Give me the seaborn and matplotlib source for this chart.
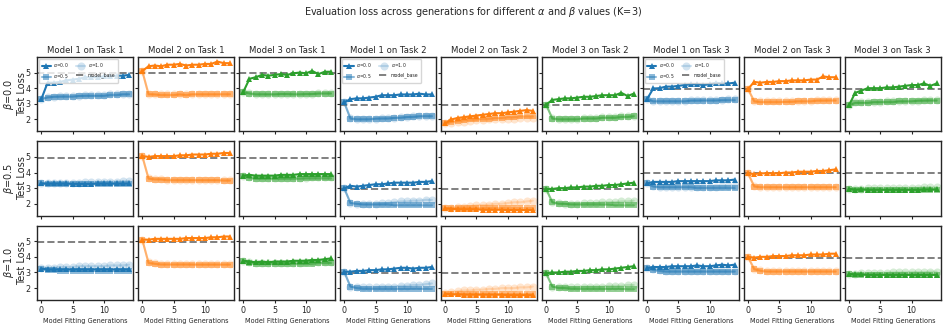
import numpy as np
import pandas as pd
import seaborn as sns
from matplotlib import pyplot as plt

gens = list(range(15))
models = ["Model 1", "Model 2", "Model 3"]
tasks = ["Task 1", "Task 2", "Task 3"]
betas = [0.0, 0.5, 1.0]
alphas = [0.0, 0.5, 1.0]
model_base = [4.95, 2.95, 3.95]  # per task

# columns: M1T1, M2T1, M3T1, M1T2, M2T2, M3T2, M1T3, M2T3, M3T3
beta00_alpha00 = [
    [3.3, 4.35, 4.35, 4.4, 4.5, 4.55, 4.6, 4.7, 4.7, 4.7, 4.75, 4.75, 4.8, 4.8, 4.85],
    [5.1, 5.4, 5.45, 5.4, 5.5, 5.5, 5.55, 5.45, 5.5, 5.5, 5.55, 5.55, 5.7, 5.6, 5.6],
    [3.75, 4.6, 4.7, 4.85, 4.8, 4.85, 4.9, 4.85, 4.95, 5.0, 4.95, 5.1, 4.9, 5.05, 5.05],
    [3.1, 3.3, 3.35, 3.35, 3.4, 3.45, 3.55, 3.55, 3.55, 3.6, 3.6, 3.6, 3.65, 3.6, 3.6],
    [1.75, 2.0, 2.1, 2.15, 2.2, 2.25, 2.3, 2.35, 2.4, 2.4, 2.45, 2.5, 2.55, 2.6, 2.55],
    [2.95, 3.25, 3.3, 3.35, 3.35, 3.4, 3.45, 3.45, 3.5, 3.55, 3.55, 3.55, 3.7, 3.5, 3.65],
    [3.3, 3.98, 4.0, 4.1, 4.1, 4.15, 4.2, 4.25, 4.25, 4.2, 4.25, 4.35, 4.3, 4.3, 4.35],
    [3.95, 4.4, 4.35, 4.4, 4.4, 4.45, 4.45, 4.5, 4.5, 4.5, 4.55, 4.55, 4.75, 4.7, 4.7],
    [2.9, 3.7, 3.85, 4.0, 4.0, 4.0, 4.05, 4.05, 4.1, 4.15, 4.2, 4.2, 4.3, 4.15, 4.3],
]
beta00_alpha05 = [
    [3.3, 3.4, 3.45, 3.45, 3.45, 3.45, 3.5, 3.5, 3.5, 3.5, 3.5, 3.55, 3.55, 3.6, 3.6],
    [5.1, 3.6, 3.6, 3.55, 3.55, 3.55, 3.6, 3.55, 3.6, 3.6, 3.6, 3.6, 3.6, 3.6, 3.6],
    [3.75, 3.65, 3.6, 3.6, 3.6, 3.6, 3.62, 3.62, 3.6, 3.6, 3.62, 3.62, 3.65, 3.65, 3.65],
    [3.1, 2.05, 2.0, 2.0, 2.0, 2.05, 2.05, 2.05, 2.1, 2.1, 2.15, 2.15, 2.2, 2.2, 2.2],
    [1.75, 1.85, 1.9, 1.95, 2.0, 2.0, 2.05, 2.05, 2.1, 2.1, 2.15, 2.15, 2.2, 2.2, 2.2],
    [2.95, 2.05, 2.0, 2.0, 2.0, 2.0, 2.05, 2.05, 2.05, 2.1, 2.1, 2.1, 2.15, 2.15, 2.2],
    [3.3, 3.15, 3.15, 3.15, 3.15, 3.15, 3.15, 3.2, 3.2, 3.2, 3.2, 3.2, 3.22, 3.22, 3.22],
    [3.95, 3.15, 3.1, 3.1, 3.1, 3.1, 3.12, 3.12, 3.15, 3.15, 3.15, 3.2, 3.2, 3.2, 3.2],
    [2.9, 3.05, 3.05, 3.05, 3.1, 3.1, 3.1, 3.1, 3.15, 3.15, 3.15, 3.2, 3.2, 3.2, 3.2],
]
beta00_alpha10 = [
    [3.3, 3.45, 3.45, 3.5, 3.5, 3.5, 3.5, 3.55, 3.55, 3.55, 3.55, 3.6, 3.6, 3.62, 3.65],
    [5.1, 3.65, 3.6, 3.6, 3.6, 3.6, 3.6, 3.6, 3.62, 3.62, 3.62, 3.62, 3.62, 3.65, 3.65],
    [3.75, 3.7, 3.65, 3.65, 3.62, 3.62, 3.65, 3.65, 3.65, 3.65, 3.65, 3.65, 3.68, 3.7, 3.7],
    [3.1, 2.1, 2.05, 2.05, 2.05, 2.05, 2.1, 2.1, 2.1, 2.15, 2.15, 2.2, 2.2, 2.25, 2.25],
    [1.75, 1.8, 1.85, 1.85, 1.9, 1.95, 1.95, 2.0, 2.0, 2.05, 2.05, 2.05, 2.1, 2.1, 2.1],
    [2.95, 2.1, 2.05, 2.05, 2.05, 2.05, 2.1, 2.1, 2.1, 2.15, 2.15, 2.15, 2.2, 2.2, 2.25],
    [3.3, 3.2, 3.2, 3.2, 3.2, 3.2, 3.2, 3.22, 3.22, 3.25, 3.25, 3.25, 3.25, 3.28, 3.28],
    [3.95, 3.2, 3.15, 3.15, 3.15, 3.15, 3.15, 3.18, 3.18, 3.2, 3.2, 3.22, 3.22, 3.25, 3.25],
    [2.9, 3.1, 3.1, 3.1, 3.12, 3.12, 3.15, 3.15, 3.18, 3.18, 3.2, 3.2, 3.22, 3.25, 3.25],
]

beta05_alpha00 = [
    [3.3, 3.3, 3.3, 3.3, 3.3, 3.28, 3.28, 3.28, 3.28, 3.3, 3.3, 3.3, 3.3, 3.3, 3.3],
    [5.05, 5.0, 5.05, 5.05, 5.05, 5.05, 5.1, 5.1, 5.15, 5.15, 5.15, 5.2, 5.2, 5.25, 5.25],
    [3.8, 3.85, 3.8, 3.8, 3.8, 3.8, 3.85, 3.85, 3.85, 3.9, 3.9, 3.9, 3.9, 3.9, 3.9],
    [3.0, 3.15, 3.1, 3.15, 3.2, 3.25, 3.25, 3.3, 3.35, 3.35, 3.35, 3.35, 3.4, 3.4, 3.45],
    [1.7, 1.68, 1.65, 1.65, 1.65, 1.65, 1.62, 1.62, 1.62, 1.62, 1.6, 1.6, 1.6, 1.6, 1.6],
    [2.95, 2.95, 3.0, 3.0, 3.05, 3.05, 3.1, 3.1, 3.15, 3.15, 3.2, 3.2, 3.25, 3.3, 3.35],
    [3.3, 3.4, 3.4, 3.4, 3.4, 3.45, 3.45, 3.45, 3.45, 3.45, 3.45, 3.5, 3.5, 3.5, 3.55],
    [3.95, 3.9, 3.95, 3.95, 3.95, 3.95, 4.0, 4.0, 4.05, 4.05, 4.05, 4.1, 4.1, 4.15, 4.2],
    [2.95, 2.9, 2.92, 2.9, 2.9, 2.9, 2.9, 2.9, 2.9, 2.9, 2.9, 2.9, 2.92, 2.92, 2.92],
]
beta05_alpha05 = [
    [3.3, 3.25, 3.25, 3.25, 3.25, 3.25, 3.25, 3.25, 3.25, 3.25, 3.25, 3.25, 3.25, 3.25, 3.25],
    [5.05, 3.6, 3.55, 3.55, 3.5, 3.5, 3.5, 3.5, 3.5, 3.5, 3.5, 3.5, 3.5, 3.48, 3.48],
    [3.8, 3.65, 3.6, 3.6, 3.6, 3.6, 3.6, 3.6, 3.6, 3.6, 3.62, 3.62, 3.62, 3.62, 3.62],
    [3.0, 2.05, 2.0, 1.95, 1.95, 1.95, 1.95, 1.95, 1.9, 1.9, 1.9, 1.9, 1.9, 1.9, 1.9],
    [1.7, 1.7, 1.72, 1.72, 1.72, 1.72, 1.72, 1.72, 1.72, 1.72, 1.72, 1.72, 1.72, 1.72, 1.72],
    [2.95, 2.1, 2.0, 2.0, 1.95, 1.95, 1.95, 1.95, 1.95, 1.95, 1.95, 1.9, 1.9, 1.9, 1.9],
    [3.3, 3.1, 3.05, 3.05, 3.05, 3.05, 3.05, 3.05, 3.0, 3.0, 3.0, 3.0, 3.0, 3.0, 3.0],
    [3.95, 3.1, 3.05, 3.05, 3.05, 3.05, 3.05, 3.05, 3.05, 3.05, 3.05, 3.05, 3.05, 3.05, 3.05],
    [2.95, 2.9, 2.9, 2.9, 2.88, 2.88, 2.88, 2.88, 2.88, 2.88, 2.88, 2.88, 2.88, 2.88, 2.88],
]
beta05_alpha10 = [
    [3.3, 3.32, 3.32, 3.34, 3.34, 3.36, 3.36, 3.38, 3.38, 3.4, 3.4, 3.42, 3.42, 3.45, 3.45],
    [5.05, 3.65, 3.6, 3.58, 3.55, 3.55, 3.55, 3.55, 3.52, 3.52, 3.52, 3.52, 3.52, 3.5, 3.5],
    [3.8, 3.7, 3.65, 3.65, 3.65, 3.65, 3.65, 3.65, 3.68, 3.68, 3.68, 3.7, 3.7, 3.7, 3.72],
    [3.0, 2.05, 2.0, 2.0, 2.0, 2.0, 2.02, 2.05, 2.1, 2.15, 2.15, 2.2, 2.2, 2.25, 2.25],
    [1.7, 1.75, 1.8, 1.82, 1.85, 1.9, 1.92, 1.95, 2.0, 2.0, 2.05, 2.1, 2.1, 2.15, 2.2],
    [2.95, 2.1, 2.02, 2.0, 2.0, 2.0, 2.05, 2.05, 2.05, 2.1, 2.1, 2.1, 2.15, 2.15, 2.2],
    [3.3, 3.15, 3.1, 3.1, 3.1, 3.1, 3.1, 3.1, 3.1, 3.1, 3.1, 3.1, 3.12, 3.12, 3.12],
    [3.95, 3.15, 3.1, 3.1, 3.08, 3.08, 3.08, 3.08, 3.08, 3.08, 3.08, 3.08, 3.08, 3.08, 3.08],
    [2.95, 2.95, 2.95, 2.98, 2.98, 3.0, 3.0, 3.0, 3.0, 3.02, 3.02, 3.02, 3.05, 3.05, 3.05],
]

beta10_alpha00 = [
    [3.25, 3.2, 3.2, 3.2, 3.2, 3.2, 3.2, 3.2, 3.2, 3.2, 3.2, 3.2, 3.2, 3.2, 3.2],
    [5.1, 5.1, 5.15, 5.15, 5.15, 5.15, 5.15, 5.2, 5.2, 5.2, 5.2, 5.25, 5.25, 5.3, 5.3],
    [3.75, 3.7, 3.65, 3.7, 3.65, 3.7, 3.7, 3.7, 3.75, 3.75, 3.75, 3.8, 3.8, 3.85, 3.9],
    [3.05, 3.05, 3.1, 3.1, 3.15, 3.15, 3.2, 3.2, 3.25, 3.3, 3.3, 3.25, 3.3, 3.3, 3.35],
    [1.65, 1.6, 1.6, 1.58, 1.58, 1.58, 1.58, 1.58, 1.58, 1.58, 1.55, 1.55, 1.55, 1.55, 1.55],
    [2.95, 3.0, 3.0, 3.05, 3.05, 3.1, 3.1, 3.15, 3.15, 3.2, 3.2, 3.25, 3.3, 3.35, 3.4],
    [3.3, 3.35, 3.35, 3.35, 3.4, 3.4, 3.4, 3.4, 3.45, 3.4, 3.4, 3.45, 3.5, 3.45, 3.5],
    [4.0, 3.95, 4.0, 4.0, 4.05, 4.05, 4.05, 4.1, 4.1, 4.1, 4.15, 4.15, 4.15, 4.2, 4.2],
    [2.9, 2.88, 2.88, 2.85, 2.85, 2.85, 2.85, 2.85, 2.85, 2.85, 2.85, 2.85, 2.85, 2.85, 2.85],
]
beta10_alpha05 = [
    [3.2, 3.15, 3.15, 3.1, 3.1, 3.1, 3.1, 3.1, 3.1, 3.1, 3.1, 3.1, 3.1, 3.1, 3.1],
    [5.1, 3.6, 3.55, 3.5, 3.5, 3.5, 3.5, 3.5, 3.5, 3.5, 3.5, 3.5, 3.5, 3.5, 3.5],
    [3.75, 3.6, 3.55, 3.55, 3.55, 3.55, 3.55, 3.55, 3.55, 3.55, 3.55, 3.55, 3.6, 3.6, 3.6],
    [3.05, 2.1, 2.0, 1.95, 1.95, 1.95, 1.95, 1.95, 1.95, 1.95, 1.95, 1.95, 1.95, 1.95, 1.95],
    [1.65, 1.65, 1.65, 1.65, 1.65, 1.65, 1.65, 1.65, 1.65, 1.65, 1.65, 1.65, 1.65, 1.65, 1.65],
    [2.95, 2.1, 2.0, 2.0, 1.95, 1.95, 1.95, 1.95, 1.95, 1.95, 1.95, 1.95, 1.95, 1.92, 1.92],
    [3.3, 3.15, 3.1, 3.05, 3.05, 3.05, 3.05, 3.05, 3.05, 3.05, 3.05, 3.05, 3.05, 3.05, 3.05],
    [4.0, 3.2, 3.1, 3.05, 3.05, 3.05, 3.05, 3.05, 3.05, 3.05, 3.05, 3.05, 3.05, 3.05, 3.05],
    [2.9, 2.85, 2.85, 2.85, 2.85, 2.85, 2.85, 2.85, 2.85, 2.85, 2.85, 2.85, 2.85, 2.85, 2.85],
]
beta10_alpha10 = [
    [3.3, 3.3, 3.3, 3.35, 3.35, 3.35, 3.4, 3.4, 3.4, 3.4, 3.4, 3.45, 3.45, 3.45, 3.5],
    [5.1, 3.65, 3.58, 3.55, 3.55, 3.55, 3.55, 3.55, 3.52, 3.52, 3.52, 3.52, 3.52, 3.52, 3.52],
    [3.75, 3.65, 3.6, 3.6, 3.6, 3.6, 3.6, 3.62, 3.62, 3.62, 3.65, 3.65, 3.65, 3.65, 3.68],
    [3.05, 2.1, 2.05, 2.05, 2.05, 2.05, 2.1, 2.1, 2.1, 2.15, 2.15, 2.2, 2.2, 2.25, 2.3],
    [1.7, 1.75, 1.8, 1.85, 1.85, 1.9, 1.9, 1.95, 1.95, 2.0, 2.0, 2.0, 2.05, 2.05, 2.1],
    [2.95, 2.1, 2.05, 2.05, 2.05, 2.05, 2.1, 2.1, 2.1, 2.1, 2.15, 2.15, 2.15, 2.2, 2.2],
    [3.3, 3.2, 3.15, 3.12, 3.12, 3.12, 3.12, 3.12, 3.12, 3.12, 3.12, 3.12, 3.12, 3.12, 3.12],
    [4.0, 3.25, 3.15, 3.1, 3.1, 3.1, 3.1, 3.1, 3.1, 3.1, 3.1, 3.1, 3.1, 3.1, 3.1],
    [2.9, 2.92, 2.95, 2.95, 2.95, 2.98, 2.98, 3.0, 3.0, 3.0, 3.02, 3.02, 3.02, 3.05, 3.05],
]

results = {
    0.0: [beta00_alpha00, beta00_alpha05, beta00_alpha10],
    0.5: [beta05_alpha00, beta05_alpha05, beta05_alpha10],
    1.0: [beta10_alpha00, beta10_alpha05, beta10_alpha10],
}

sns.set_style("ticks")
colors = sns.color_palette("tab10", 3)
markers = ["^", "s", "o"]
mark_alpha = [1.0, 0.5, 0.2]
mark_size = [5, 4.8, 5.8]

fig, axes = plt.subplots(3, 9, figsize=(9.47, 3.27), dpi=100, sharex=True, sharey=True)
fig.subplots_adjust(left=0.039, right=0.9937, top=0.826, bottom=0.083,
                    wspace=0.046, hspace=0.135)

for r, beta in enumerate(betas):
    for t, task in enumerate(tasks):
        for m, model in enumerate(models):
            c = t * 3 + m
            ax = axes[r, c]
            for k, a in enumerate(alphas):
                sns.lineplot(
                    x=gens, y=results[beta][k][c], ax=ax,
                    color=colors[m], marker=markers[k], markersize=mark_size[k],
                    markeredgewidth=0, alpha=mark_alpha[k], linewidth=1.5,
                    label=f"$\\alpha$={a}", zorder=3 - k,
                )
            ax.axhline(model_base[t], ls="--", color="gray", lw=1.4, label="model_base", zorder=1)
            if ax.get_legend() is not None:
                ax.get_legend().remove()
            if r == 0:
                ax.set_title(f"{model} on {task}", fontsize=6.1, pad=3)
                if m == 0:
                    ax.legend(loc="upper left", ncol=2, fontsize=3.3,
                              handlelength=2.0, borderpad=0.5, columnspacing=1.5,
                              labelspacing=0.6, handletextpad=0.6)
            if c == 0:
                ax.set_ylabel(f"$\\beta$={beta}\nTest Loss", fontsize=7)
                ax.yaxis.set_label_coords(-0.1, 0.5)
            if r == 2:
                ax.set_xlabel("Model Fitting Generations", fontsize=4.7, labelpad=2)
            ax.tick_params(labelsize=5.8, length=2.5, width=0.8, pad=2)
            for s in ax.spines.values():
                s.set_linewidth(1.0)

axes[0, 0].set_ylim(1.25, 6.0)
axes[0, 0].set_yticks([2, 3, 4, 5])
axes[0, 0].set_xticks([0, 5, 10])

fig.suptitle("Evaluation loss across generations for different $\\alpha$ and $\\beta$ values (K=3)",
             fontsize=7, y=0.985)

fig.savefig("out.png", dpi=100)
